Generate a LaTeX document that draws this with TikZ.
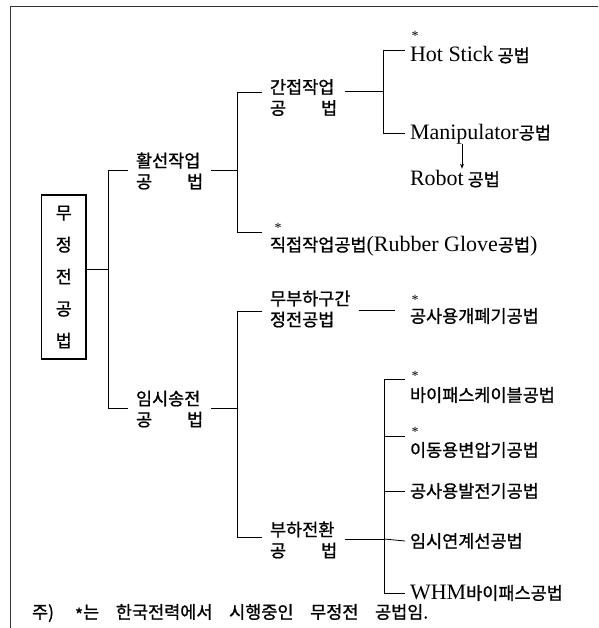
\documentclass[tikz,border=0pt]{standalone}
\usepackage{fontspec}
\setmainfont{Liberation Serif}
\newfontfamily\kr[FakeBold=1.0]{Noto Sans CJK KR}
\newcommand\lat[1]{{\rmfamily\fontsize{22}{24}\selectfont #1}}
\newcommand\astx{\raisebox{0pt}[0pt][0pt]{*}}
\usetikzlibrary{arrows.meta}
\begin{document}
\begin{tikzpicture}[x=1pt,y=-1pt,
  every node/.style={inner sep=0pt, outer sep=0pt},
  lab/.style={font=\kr\fontsize{17.5}{21}\selectfont, align=left, anchor=west, inner xsep=8pt},
  leaf/.style={font=\kr\fontsize{17.5}{21}\selectfont, anchor=west, inner xsep=5pt},
  ast/.style={font=\rmfamily\fontsize{14}{14}\selectfont},
  conn/.style={line width=0.8pt},
]
\useasboundingbox (0,0) rectangle (598,628);
\draw[line width=0.9pt, black!80] (10,628) -- (10,6) -- (598,6);

% root
\node[draw, line width=1.6pt, minimum width=44.5pt, minimum height=164pt, align=center,
      font=\kr\fontsize{17.5}{32}\selectfont] (root) at (63.8,277) {무\\정\\전\\공\\법};

% level 1
\node[lab] (hwal) at (128,171) {활선작업\\공\hspace{2em}법};
\node[lab] (imsi) at (128,409) {임시송전\\공\hspace{2em}법};
\coordinate (b1t) at (108.5,170);
\coordinate (b1m) at (108.5,269);
\coordinate (b1b) at (108.5,408);
\draw[conn] (root.east |- b1m) -- (b1m);
\draw[conn] (hwal.west |- b1t) -- (b1t) -- (b1b) -- (imsi.west |- b1b);

% level 2 (upper)
\node[lab] (ganj) at (262,97.5) {간접작업\\공\hspace{2em}법};
\node[lab] (jik) at (262,246) {직접작업공법\lat{(Rubber Glove}공법\lat{)}};
\node[ast] (s0) at (278,232) {\astx};
\coordinate (b2t) at (237,92);
\coordinate (b2m) at (237,170);
\coordinate (b2b) at (237,232);
\draw[conn] (hwal.east |- b2m) -- (b2m);
\draw[conn] (ganj.west |- b2t) -- (b2t) -- (b2b) -- (jik.west |- b2b);

% level 2 (lower)
\node[lab] (mubu) at (262,309) {무부하구간\\정전공법};
\node[lab] (buha) at (262,540) {부하전환\\공\hspace{2em}법};
\coordinate (c2t) at (237,311);
\coordinate (c2m) at (237,408);
\coordinate (c2b) at (237,537);
\draw[conn] (imsi.east |- c2m) -- (c2m);
\draw[conn] (mubu.west |- c2t) -- (c2t) -- (c2b) -- (buha.west |- c2b);

% level 3 under ganj
\node[leaf] (hot) at (405,55) {\lat{Hot Stick} 공법};
\node[ast] (s1) at (415,41) {\astx};
\node[leaf] (manip) at (405,134) {\lat{Manipulator}공법};
\node[leaf] (robot) at (405,179) {\lat{Robot} 공법};
\coordinate (b3t) at (383,50);
\coordinate (b3m) at (383,91);
\coordinate (b3b) at (383,133);
\draw[conn] (ganj.east |- b3m) -- (b3m);
\draw[conn] (hot.west |- b3t) -- (b3t) -- (b3b) -- (manip.west |- b3b);
\coordinate (ax) at (462,0);
\draw[conn, -{Stealth[length=5pt,width=4pt]}] (manip.south -| ax) -- ([yshift=2pt]robot.north -| ax);

% level 3 under mubu
\node[leaf, inner xsep=15pt] (gsa) at (395,316) {공사용개폐기공법};
\node[ast] (s2) at (415,304) {\astx};
\coordinate (m3) at (0,310);
\draw[conn] (mubu.east |- m3) -- (gsa.west |- m3);

% level 3 under buha
\node[leaf] (byp) at (405,395) {바이패스케이블공법};
\node[ast] (s3) at (415,380) {\astx};
\node[leaf] (idong) at (405,450) {이동용변압기공법};
\node[ast] (s4) at (415,436) {\astx};
\node[leaf] (bal) at (405,491) {공사용발전기공법};
\node[leaf] (yeon) at (405,541) {임시연계선공법};
\node[leaf] (whm) at (405,593) {\lat{WHM}바이패스공법};
\coordinate (b4t) at (384,379);
\coordinate (b4a) at (384,436);
\coordinate (b4m) at (384,539);
\coordinate (b4b) at (384,593);
\draw[conn] (buha.east |- b4m) -- (b4m);
\draw[conn] (byp.west |- b4t) -- (b4t) -- (b4b) -- (whm.west |- b4b);
\draw[conn] (b4a) -- (idong.west |- b4a);
\draw[conn] (bal.west -| b4t) -- (bal.west);
\draw[conn] (b4m) -- (yeon.west);

% footnote
\node[font=\kr\fontsize{17.5}{20}\selectfont, anchor=west] (note) at (32,613)
  {주)\hspace{1.2em}\raisebox{-3pt}{*}는\hspace{0.95em}한국전력에서\hspace{0.95em}시행중인\hspace{0.95em}무정전\hspace{0.95em}공법임.};
\end{tikzpicture}
\end{document}
